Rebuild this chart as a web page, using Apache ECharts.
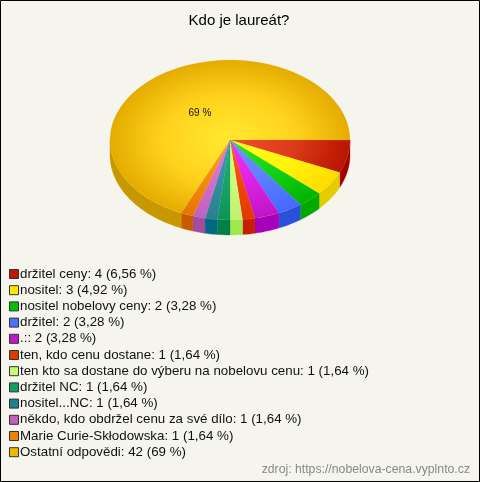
<!DOCTYPE html>
<html><head><meta charset="utf-8">
<style>html,body{margin:0;padding:0;background:#f5f5ee}#c{width:480px;height:482px}</style>
<script src="https://cdn.jsdelivr.net/npm/echarts@6/dist/echarts.min.js"></script>
</head><body><div id="c"></div>
<script>
const categories = ['držitel ceny','nositel','nositel nobelovy ceny','držitel','.:','ten, kdo cenu dostane','ten kto sa dostane do výberu na nobelovu cenu','držitel NC','nositel...NC','někdo, kdo obdržel cenu za své dílo','Marie Curie-Skłodowska','Ostatní odpovědi'];
const values = [4,3,2,2,2,1,1,1,1,1,1,42];
const percents = ['6,56','4,92','3,28','3,28','3,28','1,64','1,64','1,64','1,64','1,64','1,64','69'];
// Slice sizes as measured on the picture: one response spans 6 degrees, so the drawn pie totals 60.
const drawnShares = [4,3,2,2,2,1,1,1,1,1,1,41];
const innerColors = ['#f0502e','#ffff1e','#2ae82a','#7096ff','#f232fa','#ff5a18','#d4ff88','#20b474','#3a9cb0','#dc7ce0','#ffa024','#ffea30'];
const middleColors= ['#dc3a1a','#fff40c','#14d014','#5a80ff','#dc22e2','#f04808','#ccfa7c','#16a466','#30909f','#d06ed0','#f48a10','#ffd21c'];
const outerColors = ['#b81400','#ffdc00','#00b400','#4468ff','#c014c8','#e03800','#c0f070','#0c9458','#28808f','#c060c0','#e87400','#e4ac00'];
const sideColors  = ['#a00000','#e4cc00','#00aa00','#2a50d8','#a800b8','#c81e00','#a0e850','#008048','#006880','#a04ca0','#c85a00','#c89800'];
const legendColors= ['#c01800','#ffe800','#00c000','#4a70ff','#c018c8','#e03a00','#c8f878','#10a060','#208090','#c060c0','#f08000','#f0b800'];

const CX=230, CY=140, RX=120, RY=80, DEPTH=15;
const total = drawnShares.reduce((a,b)=>a+b,0);
const starts = []; drawnShares.reduce((acc,v,i)=>{starts[i]=acc/total*2*Math.PI;return acc+v;},0);

function renderSlice(i){
  const a0=starts[i], a1=a0+drawnShares[i]/total*2*Math.PI, kids=[];
  const s0=Math.max(a0,0), s1=Math.min(a1,Math.PI);
  if(s1>s0){
    const n=Math.max(2,Math.ceil((s1-s0)*40)), top=[], bot=[];
    for(let k=0;k<=n;k++){
      const t=s0+(s1-s0)*k/n, x=CX+RX*Math.cos(t), y=CY+RY*Math.sin(t);
      top.push([x,y]); bot.unshift([x,y+DEPTH]);
    }
    kids.push({type:'polygon',shape:{points:top.concat(bot)},style:{fill:sideColors[i],stroke:sideColors[i],lineWidth:0.3}});
  }
  kids.push({type:'group',x:CX,y:CY,scaleY:RY/RX,children:[{
    type:'sector',
    shape:{cx:0,cy:0,r0:0,r:RX,startAngle:a0,endAngle:a1,clockwise:true},
    style:{fill:new echarts.graphic.RadialGradient(0,0,RX,[
      {offset:0,color:innerColors[i]},{offset:0.55,color:middleColors[i]},{offset:1,color:outerColors[i]}],true),
      stroke:outerColors[i],lineWidth:0.2}
  }]});
  if(percents[i]==='69'){
    const m=(a0+a1)/2;
    kids.push({type:'text',x:CX+RX*0.46*Math.cos(m),y:CY+RY*0.40*Math.sin(m),
      style:{text:percents[i]+' %',font:'10px "Liberation Sans"',fill:'#111',align:'center',verticalAlign:'middle'}});
  }
  return {type:'group',children:kids};
}

const names = categories.map((c,i)=>`${c}: ${values[i]} (${percents[i]} %)`);
const chart = echarts.init(document.getElementById('c'),null,{renderer:'canvas'});
chart.setOption({
  animation:false,
  backgroundColor:'#f5f5ee',
  title:{text:'Kdo je laureát?',left:234,top:8,textAlign:'center',textStyle:{fontFamily:'Liberation Sans',fontSize:15,fontWeight:'normal',color:'#000'}},
  legend:{orient:'vertical',left:4,top:262,itemWidth:9,itemHeight:9,itemGap:2.2,icon:'rect',selectedMode:false,
    textStyle:{fontFamily:'Liberation Sans',fontSize:13.33,color:'#111',lineHeight:14,padding:[0,0,0,-3.5]},
    data:names.map((n,i)=>({name:n,icon:'rect',itemStyle:{color:legendColors[i],borderColor:'#333',borderWidth:1}}))},
  graphic:[
    {type:'rect',shape:{x:0.5,y:0.5,width:479,height:481},style:{fill:'none',stroke:'#000',lineWidth:1},z:100},
    {type:'text',right:10,top:464,style:{text:'zdroj: https://nobelova-cena.vyplnto.cz',font:'12.25px "Liberation Sans"',fill:'#888'}}
  ],
  series:names.map((n,i)=>({type:'custom',name:n,coordinateSystem:'none',silent:true,
    itemStyle:{color:legendColors[i]},data:[[values[i]]],renderItem:()=>renderSlice(i)}))
});
</script></body></html>
